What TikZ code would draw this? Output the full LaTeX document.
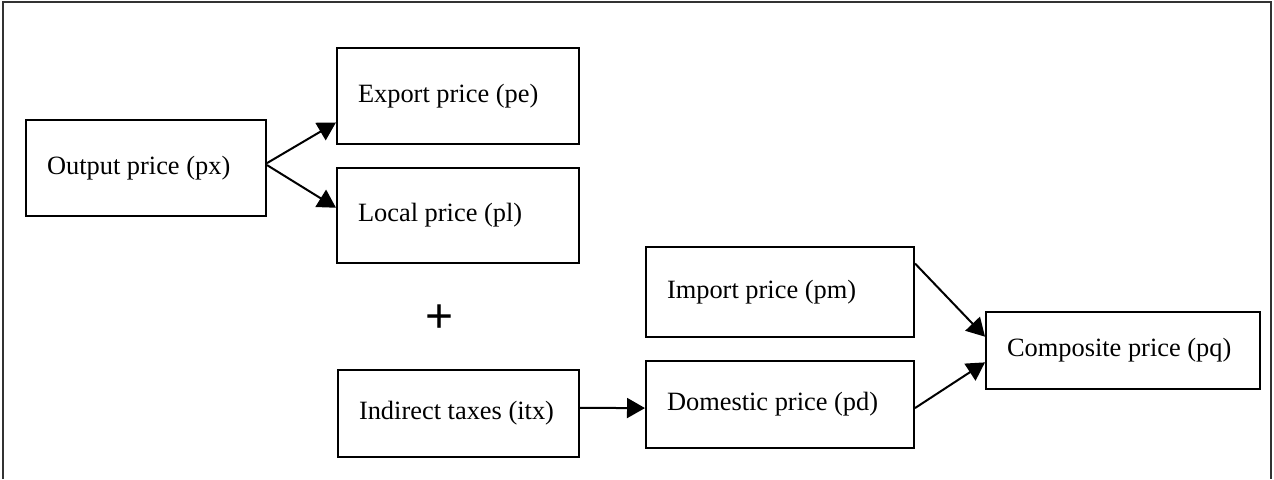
\documentclass[tikz,border=0pt]{standalone}
\usepackage{fontspec}
\setmainfont{Liberation Serif}
\setsansfont{Liberation Sans}
\usetikzlibrary{arrows.meta,calc}
\newcommand{\boxtext}[2]{\makebox[#1][l]{#2}}
\begin{document}
\begin{tikzpicture}[x=0.5pt,y=-0.5pt,
  pbox/.style={draw, line width=1pt, inner xsep=10.5pt, inner ysep=0pt,
    font=\fontsize{13.2}{16}\selectfont, anchor=center},
  conn/.style={line width=1pt, -{Triangle[length=9pt,width=10pt]}},
  frame/.style={line width=1pt, draw=black!80}]
\useasboundingbox (0,0) rectangle (1274,479);
\draw[frame] (3,479) -- (3,2) -- (1271,2) -- (1271,479);
\node[pbox, minimum height=48pt] (px) at (146,168) {\boxtext{99pt}{Output price (px)}};
\node[pbox, minimum height=48pt] (pe) at (458,96) {\boxtext{100pt}{Export price (pe)}};
\node[pbox, minimum height=47.5pt] (pl) at (458,215.5) {\boxtext{100pt}{Local price (pl)}};
\node[pbox, minimum height=43.5pt] (itx) at (458.5,413.5) {\boxtext{99.5pt}{Indirect taxes (itx)}};
\node[pbox, minimum height=45pt] (pm) at (780,292) {\boxtext{113pt}{Import price (pm)}};
\node[pbox, minimum height=43.5pt] (pd) at (780,404.5) {\boxtext{113pt}{Domestic price (pd)}};
\node[pbox, minimum height=38.5pt] (pq) at (1123,350.5) {\boxtext{116pt}{Composite price (pq)}};
\node[inner sep=0pt, font=\sffamily\fontsize{24}{26}\selectfont] (plus) at (440,319) {+};
\draw[conn] ($(px.north east)!0.45!(px.south east)$) -- ($(pe.north west)!0.77!(pe.south west)$);
\draw[conn] ($(px.north east)!0.47!(px.south east)$) -- ($(pl.north west)!0.42!(pl.south west)$);
\draw[conn] ($(itx.north east)!0.437!(itx.south east)$) -- ($(pd.north west)!0.54!(pd.south west)$);
\draw[conn] ($(pm.north east)!0.19!(pm.south east)$) -- ($(pq.north west)!0.325!(pq.south west)$);
\draw[conn] ($(pd.north east)!0.54!(pd.south east)$) -- ($(pq.north west)!0.65!(pq.south west)$);
\end{tikzpicture}
\end{document}
